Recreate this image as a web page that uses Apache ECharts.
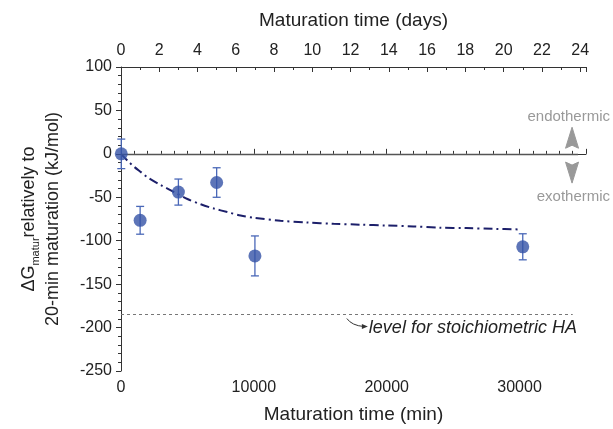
<!DOCTYPE html>
<html>
<head>
<meta charset="utf-8">
<script src="https://cdn.jsdelivr.net/npm/echarts@6/dist/echarts.min.js"></script>
<style>
html,body{margin:0;padding:0;background:#fff;}
#chart{width:613px;height:429px;}
</style>
</head>
<body>
<div id="chart"></div>
<script>
// measured points (x in minutes)
var timeMin = [20, 1440, 4320, 7200, 10080, 30240];
var dG = [0, -76.5, -44, -33, -117.5, -107];
var dGErr = [17, 16, 15, 17, 23, 15];

// dash-dot fit curve
var fitTime = [0, 500, 1000, 1500, 2000, 3000, 4000, 5000, 6000, 7000, 8000, 9000, 10000,
    12000, 14000, 16000, 18000, 20000, 22000, 24000, 26000, 28000, 30000];
var fitDG = [0, -8, -15, -21, -27, -36, -44, -52, -58, -63, -67, -71, -73.5,
    -77, -79, -80.5, -81.5, -82.5, -83.5, -85, -85.5, -86.3, -87];

// level for stoichiometric HA
var levelHA = -185;

var xMaxMin = 35000;
var minPerDay = 1440;

var textColor = '#222';
var axisColor = '#333';
var fontFam = '"Liberation Sans", Arial, sans-serif';

var myChart = echarts.init(document.getElementById('chart'));

var pts = [];
for (var i = 0; i < timeMin.length; i++) {
    pts.push([timeMin[i], dG[i], dGErr[i]]);
}
var fitPts = [];
for (var j = 0; j < fitTime.length; j++) {
    fitPts.push([fitTime[j], fitDG[j]]);
}

var option = {
    animation: false,
    backgroundColor: '#fff',
    textStyle: { fontFamily: fontFam },
    grid: { left: 121, right: 27, top: 67, bottom: 56 },
    xAxis: [
        {
            type: 'value',
            position: 'bottom',
            min: 0,
            max: xMaxMin,
            interval: 10000,
            name: 'Maturation time (min)',
            nameLocation: 'middle',
            nameGap: 34,
            nameTextStyle: { color: textColor, fontSize: 19, fontFamily: fontFam },
            axisLine: { show: true, lineStyle: { color: axisColor, width: 1 } },
            axisTick: { show: true, inside: true, length: 5, lineStyle: { color: axisColor } },
            minorTick: { show: true, splitNumber: 10, length: 3, lineStyle: { color: axisColor } },
            axisLabel: {
                color: textColor, fontSize: 16, margin: 9, showMaxLabel: false, fontFamily: fontFam,
                formatter: function (v) { return String(v); }
            },
            splitLine: { show: false }
        },
        {
            type: 'value',
            position: 'top',
            min: 0,
            max: xMaxMin / minPerDay,
            interval: 2,
            name: 'Maturation time (days)',
            nameLocation: 'middle',
            nameGap: 37,
            nameTextStyle: { color: textColor, fontSize: 19, fontFamily: fontFam },
            axisLine: { show: true, lineStyle: { color: axisColor, width: 1 } },
            axisTick: { show: true, inside: true, length: 5, lineStyle: { color: axisColor } },
            minorTick: { show: true, splitNumber: 2, length: 3, lineStyle: { color: axisColor } },
            axisLabel: { color: textColor, fontSize: 16, margin: 8, showMaxLabel: false, fontFamily: fontFam },
            splitLine: { show: false }
        }
    ],
    yAxis: {
        type: 'value',
        min: -250,
        max: 100,
        interval: 50,
        name: '{a|ΔG}{s|matur}{a|relatively to}\n{a|20-min maturation (kJ/mol)}',
        nameLocation: 'middle',
        nameRotate: 90,
        nameGap: 56,
        nameTextStyle: {
            color: textColor,
            fontSize: 18,
            lineHeight: 24,
            fontFamily: fontFam,
            rich: {
                a: { fontSize: 18, color: textColor, fontFamily: fontFam, lineHeight: 24 },
                s: { fontSize: 11, color: textColor, fontFamily: fontFam, verticalAlign: 'bottom', lineHeight: 24, padding: [8, 0, 0, 0] }
            }
        },
        axisLine: { show: true, lineStyle: { color: axisColor, width: 1 } },
        axisTick: { show: true, inside: false, length: 5, lineStyle: { color: axisColor } },
        minorTick: { show: true, splitNumber: 5, length: 3, lineStyle: { color: axisColor } },
        axisLabel: { color: textColor, fontSize: 16, margin: 9, fontFamily: fontFam },
        splitLine: { show: false }
    },
    series: [
        {
            // reference lines
            type: 'line',
            data: [],
            silent: true,
            markLine: {
                symbol: 'none',
                silent: true,
                label: { show: false },
                data: [
                    [{ coord: [0, 0], lineStyle: { color: '#555', width: 1.3, type: 'solid' } }, { coord: [34400, 0] }],
                    [{ coord: [0, levelHA], lineStyle: { color: '#777', width: 1, type: [3, 3] } }, { coord: [34000, levelHA] }]
                ]
            }
        },
        {
            type: 'line',
            data: fitPts,
            showSymbol: false,
            smooth: 0.3,
            z: 3,
            lineStyle: { color: '#1c1f6a', width: 2, type: [9, 4, 2, 4] }
        },
        {
            type: 'custom',
            data: pts,
            z: 4,
            renderItem: function (params, api) {
                var x = api.value(0), y = api.value(1), e = api.value(2);
                var top = api.coord([x, y + e]);
                var bot = api.coord([x, y - e]);
                var w = 4;
                var st = { stroke: '#4a68b8', lineWidth: 1.3 };
                return {
                    type: 'group',
                    children: [
                        { type: 'line', shape: { x1: top[0], y1: top[1], x2: bot[0], y2: bot[1] }, style: st },
                        { type: 'line', shape: { x1: top[0] - w, y1: top[1], x2: top[0] + w, y2: top[1] }, style: st },
                        { type: 'line', shape: { x1: bot[0] - w, y1: bot[1], x2: bot[0] + w, y2: bot[1] }, style: st }
                    ]
                };
            }
        },
        {
            type: 'scatter',
            data: pts,
            symbol: 'circle',
            symbolSize: 13,
            z: 5,
            itemStyle: { color: '#3553a6' }
        }
    ]
};

myChart.setOption(option);

// annotations placed from data coordinates
function px(x, y) {
    return myChart.convertToPixel({ xAxisIndex: 0, yAxisIndex: 0 }, [x, y]);
}
var upA = px(33950, 18);
var dnA = px(33950, -21);
var endoP = px(33700, 43);
var exoP = px(34050, -49);
var lvl = px(17000, levelHA);

myChart.setOption({
    graphic: [
        { type: 'text', x: endoP[0], y: endoP[1], style: { text: 'endothermic', fill: '#999', font: '15px ' + fontFam, align: 'center', verticalAlign: 'middle' } },
        { type: 'text', x: exoP[0], y: exoP[1], style: { text: 'exothermic', fill: '#999', font: '15px ' + fontFam, align: 'center', verticalAlign: 'middle' } },
        {
            type: 'polygon', x: upA[0], y: upA[1],
            shape: { points: [[0, -11], [6.5, 10], [0, 7], [-6.5, 10]] },
            style: { fill: '#999', stroke: '#999', lineWidth: 1, lineJoin: 'round' }
        },
        {
            type: 'polygon', x: dnA[0], y: dnA[1],
            shape: { points: [[0, 11], [6.5, -10], [0, -7], [-6.5, -10]] },
            style: { fill: '#999', stroke: '#999', lineWidth: 1, lineJoin: 'round' }
        },
        {
            type: 'bezierCurve', x: lvl[0], y: lvl[1],
            shape: { x1: 0, y1: 4, x2: 17, y2: 12, cpx1: 5, cpy1: 11 },
            style: { stroke: '#333', lineWidth: 1, fill: null }
        },
        {
            type: 'polygon', x: lvl[0], y: lvl[1],
            shape: { points: [[21, 12], [15, 9.5], [15, 14.5]] },
            style: { fill: '#333' }
        },
        {
            type: 'text', x: lvl[0] + 22, y: lvl[1] + 13,
            style: { text: 'level for stoichiometric HA', fill: textColor, font: 'italic 18px ' + fontFam, align: 'left', verticalAlign: 'middle' }
        }
    ]
});
</script>
</body>
</html>
